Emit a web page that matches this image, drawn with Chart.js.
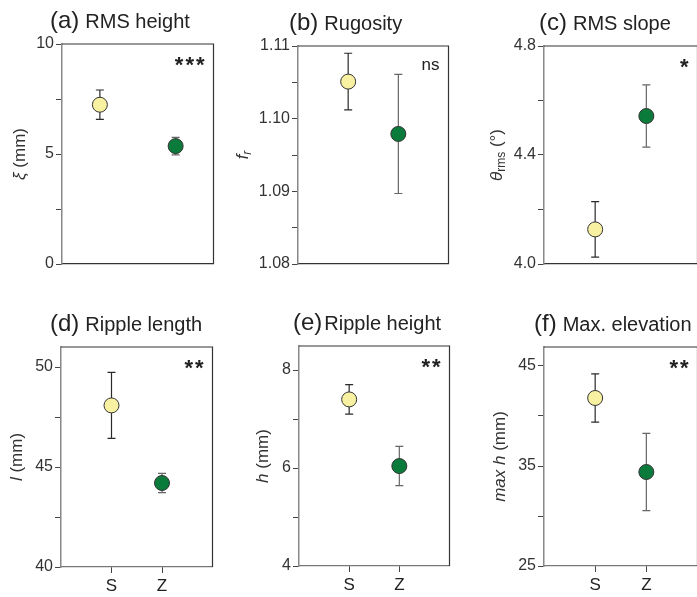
<!DOCTYPE html>
<html>
<head>
<meta charset="utf-8">
<script src="https://cdn.jsdelivr.net/npm/chart.js@4/dist/chart.umd.min.js"></script>
<style>
  html, body { margin: 0; padding: 0; background: #fff; width: 697px; height: 597px; overflow: hidden; }
  canvas { position: absolute; }
</style>
</head>
<body>
<canvas id="pa"></canvas>
<canvas id="pb"></canvas>
<canvas id="pc"></canvas>
<canvas id="pd"></canvas>
<canvas id="pe"></canvas>
<canvas id="pf"></canvas>
<script>
  // groups
  const groups = ['S', 'Z'];
  const groupColors = ['#f8f1a2', '#0b7b3b'];

  // (a) RMS height
  const rmsHeight = [7.24, 5.36];
  const rmsHeightErr = [0.67, 0.40];
  const rmsHeightTicks = [0, 2.5, 5, 7.5, 10];
  const rmsHeightLabels = ['0', '', '5', '', '10'];

  // (b) Rugosity
  const rugosity = [1.1051, 1.0979];
  const rugosityErr = [0.0039, 0.0082];
  const rugosityTicks = [1.08, 1.085, 1.09, 1.095, 1.10, 1.105, 1.11];
  const rugosityLabels = ['1.08', '', '1.09', '', '1.10', '', '1.11'];

  // (c) RMS slope
  const rmsSlope = [4.127, 4.543];
  const rmsSlopeErr = [0.102, 0.114];
  const rmsSlopeTicks = [4.0, 4.2, 4.4, 4.6, 4.8];
  const rmsSlopeLabels = ['4.0', '', '4.4', '', '4.8'];

  // (d) Ripple length
  const rippleLength = [48.08, 44.2];
  const rippleLengthErr = [1.65, 0.48];
  const rippleLengthTicks = [40, 42.5, 45, 47.5, 50];
  const rippleLengthLabels = ['40', '', '45', '', '50'];

  // (e) Ripple height
  const rippleHeight = [7.40, 6.04];
  const rippleHeightErr = [0.30, 0.40];
  const rippleHeightTicks = [4, 5, 6, 7, 8];
  const rippleHeightLabels = ['4', '', '6', '', '8'];

  // (f) Max. elevation
  const maxElevation = [41.8, 34.4];
  const maxElevationErr = [2.42, 3.87];
  const maxElevationTicks = [25, 30, 35, 40, 45];
  const maxElevationLabels = ['25', '', '35', '', '45'];

  const FONT = '"Liberation Sans", Arial, Helvetica, sans-serif';
  const AXIS_W = 62, TOP_PAD = 44, X_H = 30;

  const panels = [
    { id: 'pa', tag: '(a)', name: 'RMS height', gap: 6, tx: -12, vals: rmsHeight, errs: rmsHeightErr,
      ticks: rmsHeightTicks, labels: rmsHeightLabels, yMin: 0, yMax: 10, xMax: 4, xs: [1, 3], sig: '***',
      box: [62, 44, 156, 220], showX: false, labOff: 42,
      ylab: [{ t: 'ξ', it: true }, { t: ' (mm)' }] },
    { id: 'pb', tag: '(b)', name: 'Rugosity', gap: 6, tx: -9, vals: rugosity, errs: rugosityErr,
      ticks: rugosityTicks, labels: rugosityLabels, yMin: 1.08, yMax: 1.11, xMax: 3, xs: [1, 2], sig: 'ns',
      box: [298, 46, 155, 218], showX: false, labOff: 55,
      ylab: [{ t: 'f', it: true }, { t: 'r', it: true, sub: true }] },
    { id: 'pc', tag: '(c)', name: 'RMS slope', gap: 6, tx: -5, vals: rmsSlope, errs: rmsSlopeErr,
      ticks: rmsSlopeTicks, labels: rmsSlopeLabels, yMin: 4.0, yMax: 4.8, xMax: 3, xs: [1, 2], sig: '*',
      box: [544, 46, 158, 218], showX: false, labOff: 47,
      ylab: [{ t: 'θ', it: true }, { t: 'rms', sub: true }, { t: ' (°)' }] },
    { id: 'pd', tag: '(d)', name: 'Ripple length', gap: 6, tx: -11, vals: rippleLength, errs: rippleLengthErr,
      ticks: rippleLengthTicks, labels: rippleLengthLabels, yMin: 40, yMax: 51, xMax: 3, xs: [1, 2], sig: '**',
      box: [61, 347, 156, 220], showX: true, labOff: 44,
      ylab: [{ t: 'l', it: true }, { t: ' (mm)' }] },
    { id: 'pe', tag: '(e)', name: 'Ripple height', gap: 2, tx: -6, vals: rippleHeight, errs: rippleHeightErr,
      ticks: rippleHeightTicks, labels: rippleHeightLabels, yMin: 4, yMax: 8.49, xMax: 3, xs: [1, 2], sig: '**',
      box: [299, 346, 155, 220], showX: true, labOff: 36,
      ylab: [{ t: 'h', it: true }, { t: ' (mm)' }] },
    { id: 'pf', tag: '(f)', name: 'Max. elevation', gap: 6, tx: -10, vals: maxElevation, errs: maxElevationErr,
      ticks: maxElevationTicks, labels: maxElevationLabels, yMin: 25, yMax: 46.9, xMax: 3, xs: [1, 2], sig: '**',
      box: [544, 347, 158, 219], showX: true, labOff: 44,
      ylab: [{ t: 'max h', it: true }, { t: ' (mm)' }] }
  ];

  // error bars, frame, titles, labels
  const decor = {
    id: 'decor',
    beforeDatasetsDraw(chart) {
      const p = chart.options.plugins.decor.panel;
      const { ctx, chartArea: a, scales: { x, y } } = chart;
      ctx.save();
      // top + right frame
      ctx.strokeStyle = '#333';
      ctx.lineWidth = 1.2;
      ctx.beginPath();
      ctx.moveTo(a.left, a.top);
      ctx.lineTo(a.right, a.top);
      ctx.lineTo(a.right, a.bottom);
      ctx.stroke();
      // error bars
      p.vals.forEach((v, i) => {
        const px = x.getPixelForValue(p.xs[i]);
        const y1 = y.getPixelForValue(v + p.errs[i]);
        const y2 = y.getPixelForValue(v - p.errs[i]);
        ctx.strokeStyle = i === 0 ? '#2a2a2a' : '#666';
        ctx.lineWidth = 1.2;
        ctx.beginPath();
        ctx.moveTo(px, y1); ctx.lineTo(px, y2);
        ctx.moveTo(px - 4, y1); ctx.lineTo(px + 4, y1);
        ctx.moveTo(px - 4, y2); ctx.lineTo(px + 4, y2);
        ctx.stroke();
      });
      ctx.restore();
    },
    afterDraw(chart) {
      const p = chart.options.plugins.decor.panel;
      const { ctx, chartArea: a } = chart;
      ctx.save();
      ctx.fillStyle = '#222';
      // title
      ctx.textBaseline = 'alphabetic';
      ctx.textAlign = 'left';
      ctx.font = '24px ' + FONT;
      const tx = a.left + p.tx, ty = a.top - 16;
      ctx.fillText(p.tag, tx, ty);
      const w = ctx.measureText(p.tag).width;
      ctx.font = '20px ' + FONT;
      ctx.fillText(p.name, tx + w + p.gap, ty);
      // significance
      ctx.textAlign = 'right';
      if (p.sig.startsWith('*')) {
        ctx.font = 'bold 22px ' + FONT;
        ctx.letterSpacing = '2px';
        ctx.fillText(p.sig, a.right - 7, a.top + 28);
        ctx.letterSpacing = '0px';
      } else {
        ctx.font = '17px ' + FONT;
        ctx.fillText(p.sig, a.right - 9, a.top + 24);
      }
      // y label
      ctx.translate(a.left - p.labOff, (a.top + a.bottom) / 2);
      ctx.rotate(-Math.PI / 2);
      ctx.textAlign = 'left';
      ctx.textBaseline = 'middle';
      ctx.fillStyle = '#333';
      const fnt = s => (s.it ? 'italic ' : '') + (s.sub ? '12px ' : '17px ') + FONT;
      let total = 0;
      p.ylab.forEach(s => { ctx.font = fnt(s); total += ctx.measureText(s.t).width; });
      let cx = -total / 2;
      p.ylab.forEach(s => {
        ctx.font = fnt(s);
        ctx.fillText(s.t, cx, s.sub ? 5 : 0);
        cx += ctx.measureText(s.t).width;
      });
      ctx.restore();
    }
  };

  panels.forEach(p => {
    const [bx, by, bw, bh] = p.box;
    const cv = document.getElementById(p.id);
    cv.width = AXIS_W + bw + 4;
    cv.height = TOP_PAD + bh + X_H;
    cv.style.left = (bx - AXIS_W) + 'px';
    cv.style.top = (by - TOP_PAD) + 'px';

    new Chart(cv.getContext('2d'), {
      type: 'scatter',
      data: {
        datasets: [{
          data: p.vals.map((v, i) => ({ x: p.xs[i], y: v })),
          backgroundColor: groupColors,
          borderColor: '#333',
          borderWidth: 1,
          pointRadius: 7.5,
          pointHoverRadius: 7.5
        }]
      },
      options: {
        responsive: false,
        animation: false,
        layout: { padding: { top: TOP_PAD, right: 4, left: 0, bottom: 0 } },
        plugins: {
          legend: { display: false },
          tooltip: { enabled: false },
          decor: { panel: p }
        },
        scales: {
          x: {
            type: 'linear',
            min: 0,
            max: p.xMax,
            afterBuildTicks: s => { s.ticks = p.showX ? p.xs.map(v => ({ value: v })) : []; },
            afterFit: s => { s.height = X_H; },
            ticks: {
              display: p.showX,
              callback: (v, i) => groups[i],
              color: '#222',
              font: { size: 17, family: FONT },
              padding: 3,
              maxRotation: 0
            },
            grid: { drawOnChartArea: false, drawTicks: p.showX, tickLength: 6, color: '#444' },
            border: { color: p.showX ? '#777' : '#333', width: 1.2 }
          },
          y: {
            min: p.yMin,
            max: p.yMax,
            afterBuildTicks: s => { s.ticks = p.ticks.map(v => ({ value: v })); },
            afterFit: s => { s.width = AXIS_W; },
            ticks: {
              callback: (v, i) => p.labels[i],
              color: '#333',
              font: { size: 16, family: FONT },
              padding: 2
            },
            grid: { drawOnChartArea: false, tickLength: 6, color: '#444' },
            border: { color: '#888', width: 1.5 }
          }
        }
      },
      plugins: [decor]
    });
  });
</script>
</body>
</html>
